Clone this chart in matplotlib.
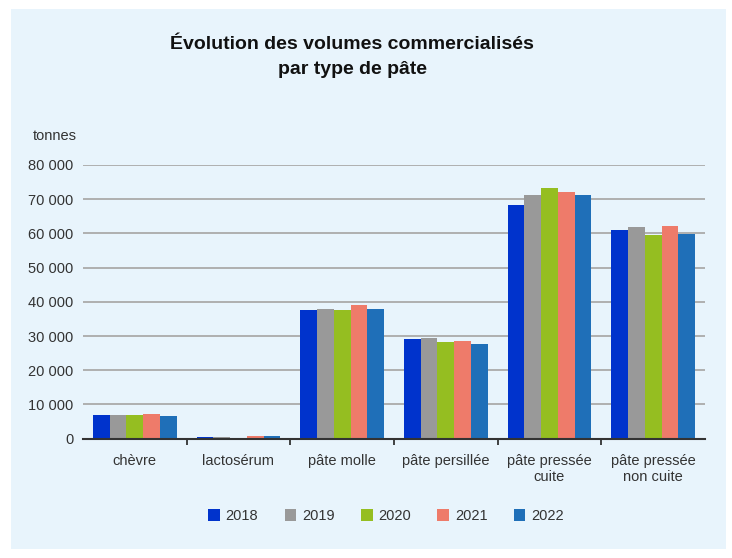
import numpy as np
import matplotlib.pyplot as plt
from matplotlib.patches import Rectangle

plt.rcParams['font.family'] = ['Liberation Sans', 'DejaVu Sans']

# Data (tonnes)
categories = ["chèvre", "lactosérum", "pâte molle", "pâte persillée",
              "pâte pressée\ncuite", "pâte pressée\nnon cuite"]
years = ["2018", "2019", "2020", "2021", "2022"]
v2018 = [6800, 500, 37500, 29100, 68200, 60900]
v2019 = [6800, 500, 37800, 29400, 71100, 62000]
v2020 = [6800, 0, 37500, 28400, 73400, 59600]
v2021 = [7100, 800, 39000, 28700, 72000, 62300]
v2022 = [6500, 800, 37800, 27800, 71100, 59900]
series = [v2018, v2019, v2020, v2021, v2022]
colors = ["#0033CC", "#999999", "#95BE21", "#EE7B6A", "#1F6FB8"]
yticks = [0, 10000, 20000, 30000, 40000, 50000, 60000, 70000, 80000]

bg = "#E8F4FC"
txt = "#333333"

fig = plt.figure(figsize=(7.32, 5.58), dpi=100, facecolor="white")
fig.patches.append(Rectangle((11/732, 1 - 549/558), 715/732, 540/558,
                             transform=fig.transFigure, facecolor=bg,
                             edgecolor="none", zorder=-10))

ax = fig.add_axes([83/732, 1 - 438.7/558, 622/732, (438.7 - 165)/558])
ax.patch.set_alpha(0)

x = np.arange(len(categories))
w = 0.162
for i, (vals, col, yr) in enumerate(zip(series, colors, years)):
    ax.bar(x + (i - 2) * w, vals, width=w, color=col, label=yr, zorder=3)

ax.set_xlim(-0.5, len(categories) - 0.5)
ax.set_ylim(0, 80000)
ax.set_yticks(yticks)
ax.set_yticklabels([f"{v:,}".replace(",", " ") for v in yticks], fontsize=10.5, color=txt)
ax.yaxis.grid(True, color="#AAAAAA", linewidth=1.3, zorder=0)
ax.tick_params(axis="y", length=0, pad=7)

ax.set_xticks(x)
ax.set_xticklabels(categories, fontsize=10.5, color=txt, linespacing=1.15)
ax.set_xticks(np.arange(0.5, len(categories) - 1, 1), minor=True)
ax.tick_params(axis="x", which="major", length=0, pad=11)
ax.tick_params(axis="x", which="minor", length=4, width=1.2, color="#222222", direction="out")

for s in ["top", "right", "left"]:
    ax.spines[s].set_visible(False)
ax.spines["bottom"].set_color("#333333")
ax.spines["bottom"].set_linewidth(1.5)
ax.spines["bottom"].set_zorder(4)

fig.text(77/732, 1 - 136/558, "tonnes", ha="right", va="center", fontsize=10.5, color=txt)
fig.text(352/732, 1 - 57/558, "Évolution des volumes commercialisés\npar type de pâte",
         ha="center", va="center", fontsize=14, fontweight="bold", color="#111111",
         linespacing=1.55)

fig.legend(loc="center", bbox_to_anchor=(386/732, 1 - 516/558), ncol=5, frameon=False,
           fontsize=10.5, handlelength=0.8, handleheight=0.8, handletextpad=0.4,
           columnspacing=1.8, labelcolor=txt)

fig.savefig("out.png", dpi=100, facecolor="white")
